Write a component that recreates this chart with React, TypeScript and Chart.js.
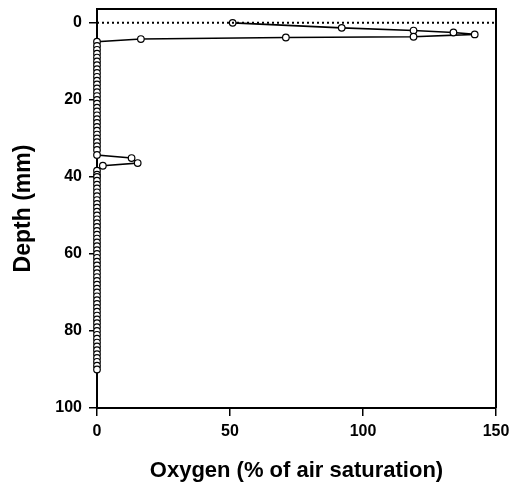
import { useEffect, useRef } from "react";
import { Chart, registerables } from "chart.js";

Chart.register(...registerables);

// Oxygen profile: surface peak, anoxic column, sub-surface bump, anoxic column
const surfaceDepth = [0, 1.3, 2.0, 2.5, 3.0, 3.6, 3.8, 4.2, 4.9];
const surfaceOxygen = [51, 92, 119, 134, 142, 119, 71, 16.5, 0];

const upperDepth = [6, 7, 8, 9, 10, 11, 12, 13, 14, 15, 16, 17, 18, 19, 20, 21, 22, 23, 24, 25, 26, 27, 28, 29, 30, 31, 32, 33, 34.3];
const upperOxygen = [0, 0, 0, 0, 0, 0, 0, 0, 0, 0, 0, 0, 0, 0, 0, 0, 0, 0, 0, 0, 0, 0, 0, 0, 0, 0, 0, 0, 0];

const bumpDepth = [35.1, 36.4, 37.1];
const bumpOxygen = [13, 15.3, 2.2];

const lowerDepth = [38.4, 39.4, 40, 41, 42, 43, 44, 45, 46, 47, 48, 49, 50, 51, 52, 53, 54, 55, 56, 57, 58, 59, 60, 61, 62, 63, 64, 65, 66, 67, 68, 69, 70, 71, 72, 73, 74, 75, 76, 77, 78, 79, 80, 81, 82, 83, 84, 85, 86, 87, 88, 89, 90];
const lowerOxygen = [0, 0, 0, 0, 0, 0, 0, 0, 0, 0, 0, 0, 0, 0, 0, 0, 0, 0, 0, 0, 0, 0, 0, 0, 0, 0, 0, 0, 0, 0, 0, 0, 0, 0, 0, 0, 0, 0, 0, 0, 0, 0, 0, 0, 0, 0, 0, 0, 0, 0, 0, 0, 0];

const surfaceLineOxygen = [0, 150];
const surfaceLineDepth = [0, 0];

const xTicks = [0, 50, 100, 150];
const yTicks = [0, 20, 40, 60, 80, 100];

const FONT = "'Liberation Sans', Arial, Helvetica, sans-serif";

export default function App() {
  const ref = useRef<HTMLCanvasElement>(null);

  useEffect(() => {
    const depth = [...surfaceDepth, ...upperDepth, ...bumpDepth, ...lowerDepth];
    const oxygen = [...surfaceOxygen, ...upperOxygen, ...bumpOxygen, ...lowerOxygen];
    const profile = depth.map((d, i) => ({ x: oxygen[i], y: d }));
    const surfaceLine = surfaceLineOxygen.map((o, i) => ({ x: o, y: surfaceLineDepth[i] }));

    const frame = {
      id: "frame",
      afterDraw(chart: any) {
        const { ctx, chartArea } = chart;
        ctx.save();
        ctx.strokeStyle = "#000";
        ctx.lineWidth = 2;
        ctx.beginPath();
        ctx.moveTo(chartArea.left, chartArea.top);
        ctx.lineTo(chartArea.right, chartArea.top);
        ctx.lineTo(chartArea.right, chartArea.bottom);
        ctx.stroke();
        ctx.restore();
      },
    };

    const zeroPad = (s: any) => {
      s.paddingTop = 0;
      s.paddingBottom = 0;
      s.paddingLeft = 0;
      s.paddingRight = 0;
    };

    const chart = new Chart(ref.current!, {
      type: "scatter",
      data: {
        datasets: [
          {
            data: surfaceLine,
            showLine: true,
            borderColor: "#000",
            borderWidth: 2,
            borderDash: [2, 3],
            pointRadius: 0,
          },
          {
            data: profile,
            showLine: true,
            borderColor: "#000",
            borderWidth: 1.6,
            pointRadius: 3.3,
            pointBackgroundColor: "#fff",
            pointBorderColor: "#000",
            pointBorderWidth: 1.2,
            clip: 10,
          } as any,
        ],
      },
      options: {
        animation: false,
        responsive: false,
        maintainAspectRatio: false,
        layout: { padding: { top: 9, right: 15, left: 0, bottom: 0 } },
        plugins: { legend: { display: false }, tooltip: { enabled: false } },
        scales: {
          x: {
            type: "linear",
            min: 0,
            max: 150,
            afterBuildTicks: (s: any) => {
              s.ticks = xTicks.map((v) => ({ value: v }));
            },
            afterFit: (s: any) => {
              s.height = 76;
              zeroPad(s);
            },
            grid: { drawOnChartArea: false, tickLength: 8, color: "#000", lineWidth: 1.5 },
            border: { color: "#000", width: 2 },
            ticks: { color: "#000", padding: 6, maxRotation: 0, font: { family: FONT, size: 16, weight: "bold" } },
            title: {
              display: true,
              text: "Oxygen (% of air saturation)",
              color: "#000",
              font: { family: FONT, size: 22, weight: "bold" },
              padding: { top: 0, bottom: 0 },
            },
          },
          y: {
            type: "linear",
            reverse: true,
            min: -3.6,
            max: 100,
            afterBuildTicks: (s: any) => {
              s.ticks = yTicks.map((v) => ({ value: v }));
            },
            afterFit: (s: any) => {
              s.width = 97;
              zeroPad(s);
            },
            grid: { drawOnChartArea: false, tickLength: 8, color: "#000", lineWidth: 1.5 },
            border: { color: "#000", width: 2 },
            ticks: { color: "#000", padding: 7, font: { family: FONT, size: 16, weight: "bold" } },
            title: {
              display: true,
              text: "Depth (mm)",
              color: "#000",
              font: { family: FONT, size: 23, weight: "bold" },
              padding: { top: 10, bottom: 0 },
            },
          },
        },
      },
      plugins: [frame],
    });
    return () => chart.destroy();
  }, []);

  return (
    <canvas
      ref={ref}
      width={511}
      height={484}
      style={{ position: "fixed", left: 0, top: 0, width: 511, height: 484, background: "#fff" }}
    />
  );
}
